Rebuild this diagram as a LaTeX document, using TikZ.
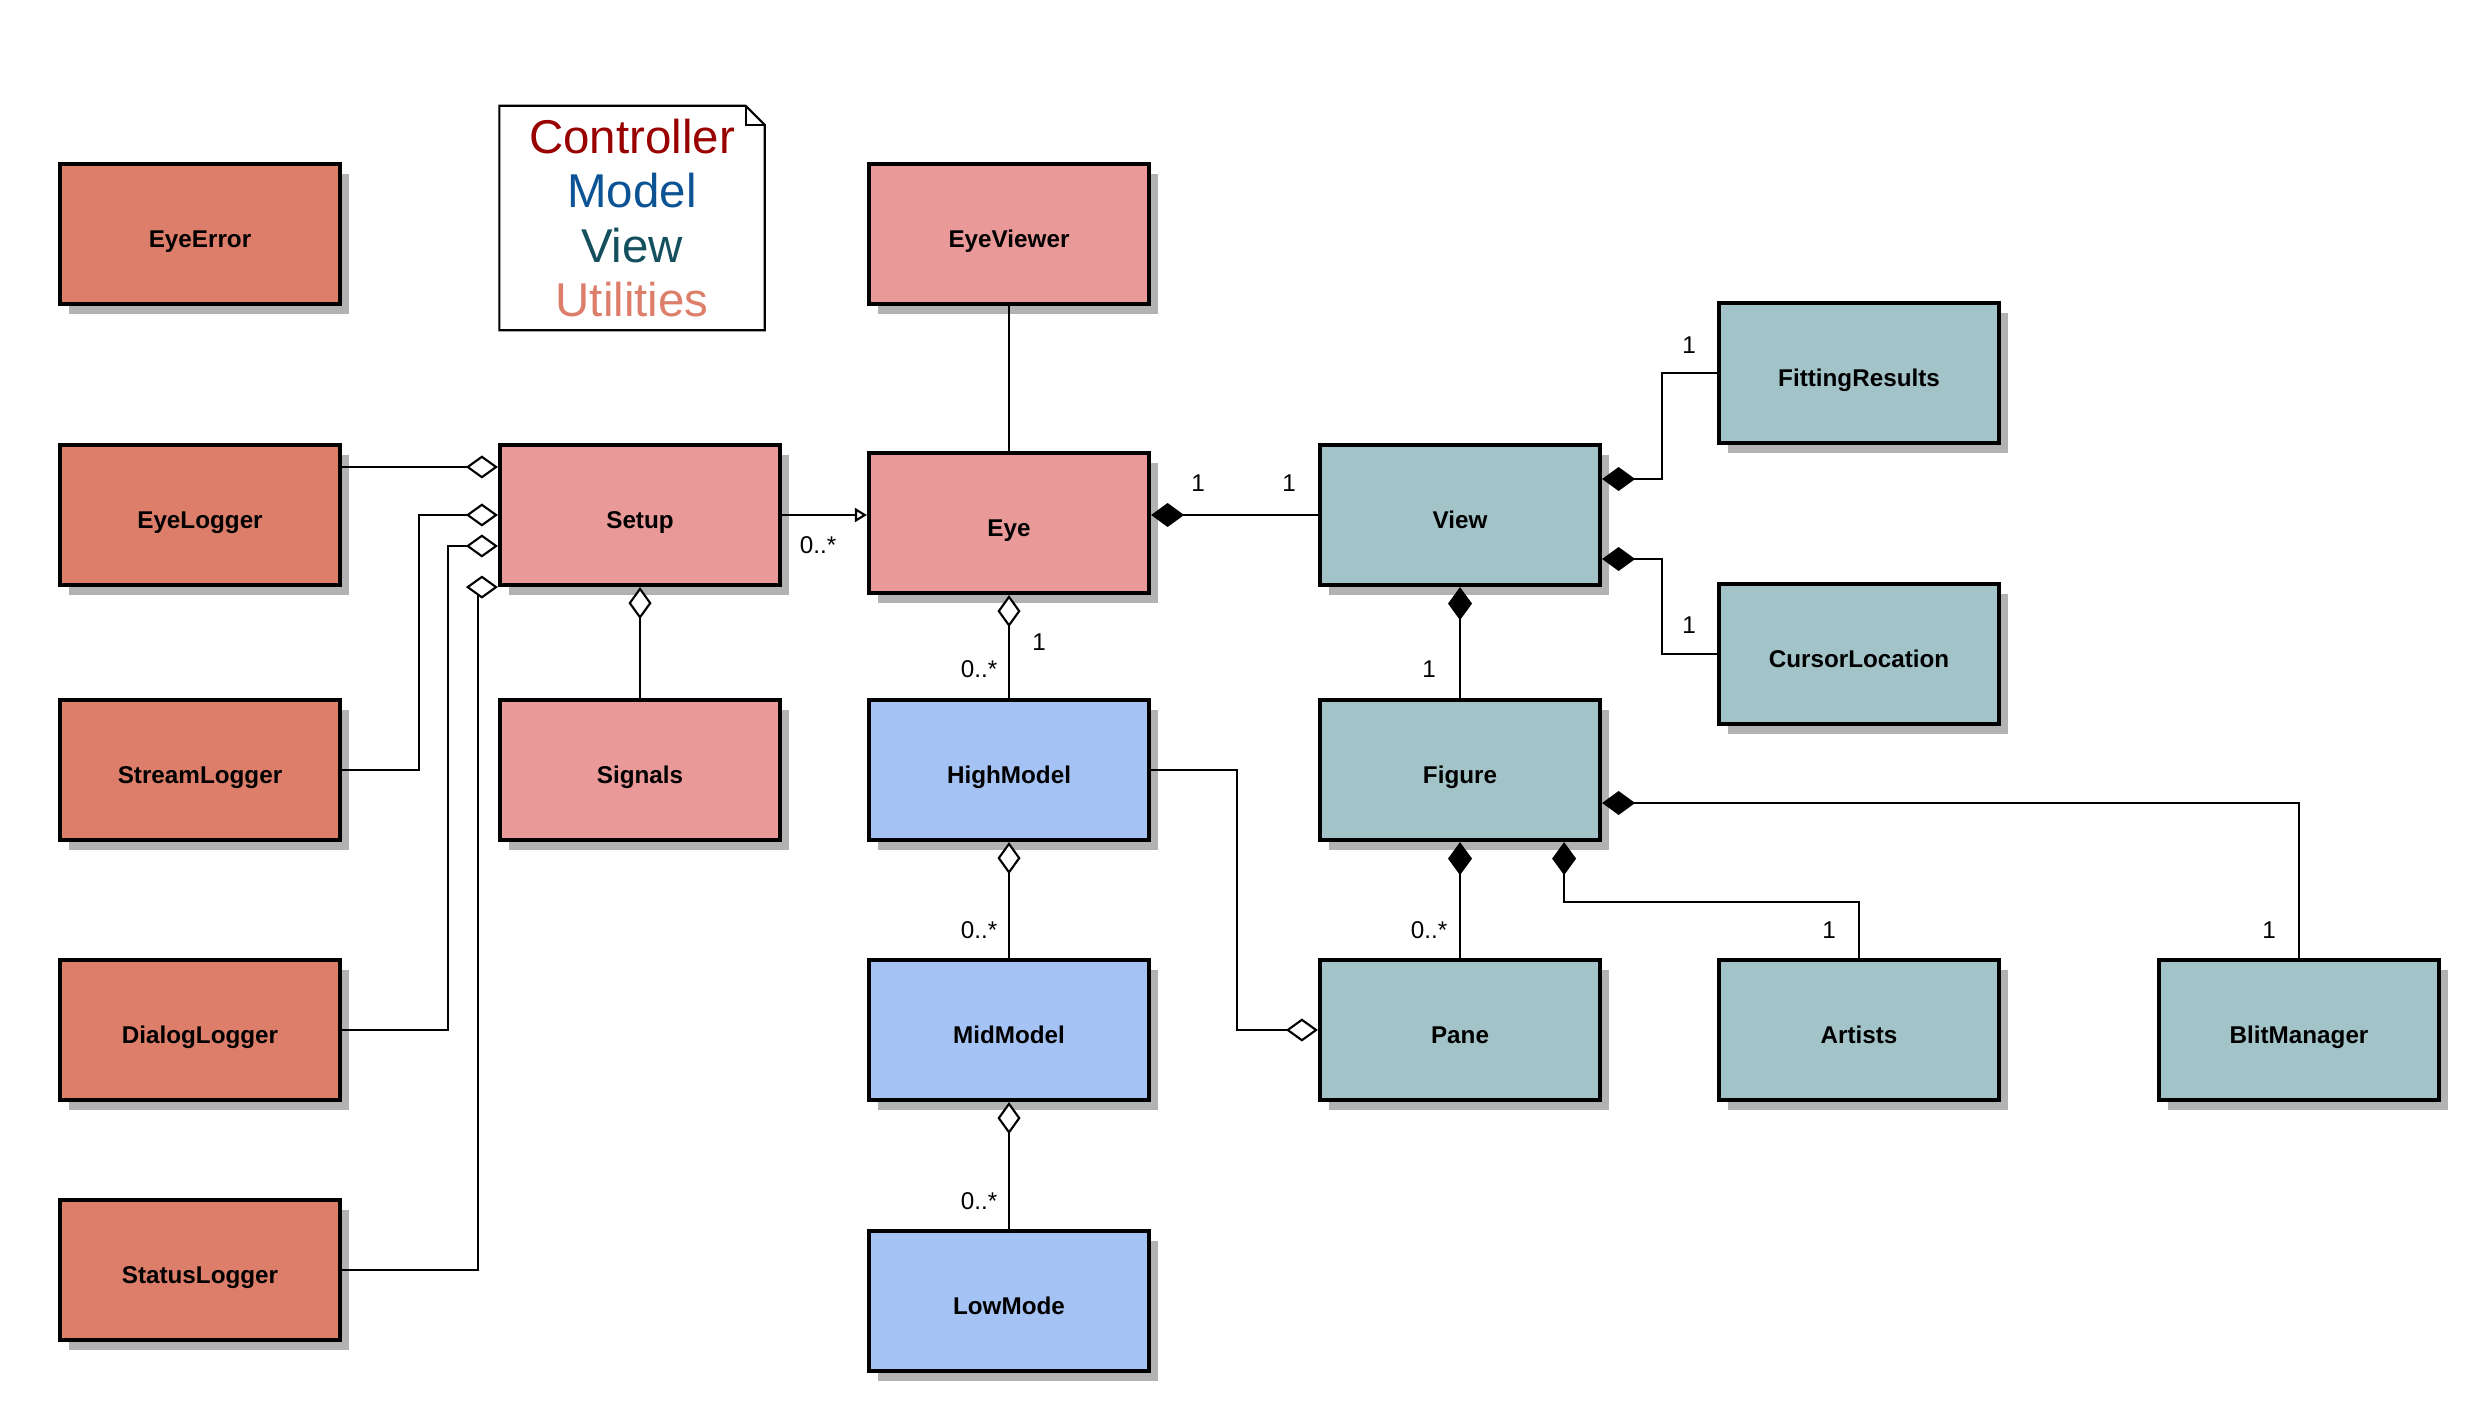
\documentclass[tikz,border=0pt]{standalone}
\usepackage{fontspec}
\setmainfont{Liberation Sans}
\usetikzlibrary{arrows.meta, shadows}

\definecolor{utilfill}{HTML}{DD7E6B}
\definecolor{ctrlfill}{HTML}{EA9999}
\definecolor{modelfill}{HTML}{A4C2F4}
\definecolor{viewfill}{HTML}{A2C4C9}
\definecolor{ctrltext}{HTML}{990000}
\definecolor{modeltext}{HTML}{0B5394}
\definecolor{viewtext}{HTML}{134F5C}
\definecolor{utiltext}{HTML}{DD7E6B}

\begin{document}
\begin{tikzpicture} [
  cls/.style={
    draw, rectangle, line width=1.2pt, minimum width=2.8cm, minimum height=1.4cm,
    text height=1.45ex, text depth=0pt,
    font=\fontsize{6.9}{8}\selectfont\bfseries,
    drop shadow={shadow xshift=0.09cm, shadow yshift=-0.1cm, fill=black!30, opacity=1}
  },
  util/.style={cls, fill=utilfill},
  ctrl/.style={cls, fill=ctrlfill},
  model/.style={cls, fill=modelfill},
  view/.style={cls, fill=viewfill},
  mult/.style={font=\fontsize{6.9}{8}\selectfont, inner sep=0pt},
  agg/.tip={Diamond[fill=white, length=3.2mm, width=2.3mm]},
  comp/.tip={Diamond[length=3.3mm, width=2.4mm]},
  gen/.tip={Triangle[open, length=1.2mm, width=1.4mm]}
  ]
  \useasboundingbox (0,0) rectangle (24.92,14.11);

  % utilities
  \node(err)[util] at (2.00,11.77) {EyeError};
  \node(elog)[util] at (2.00,8.96) {EyeLogger};
  \node(slog)[util] at (2.00,6.41) {StreamLogger};
  \node(dlog)[util] at (2.00,3.81) {DialogLogger};
  \node(stlog)[util] at (2.00,1.41) {StatusLogger};
  % controller
  \node(setup)[ctrl] at (6.40,8.96) {Setup};
  \node(sig)[ctrl] at (6.40,6.41) {Signals};
  \node(viewer)[ctrl] at (10.09,11.77) {EyeViewer};
  \node(eye)[ctrl] at (10.09,8.88) {Eye};
  % model
  \node(high)[model] at (10.09,6.41) {HighModel};
  \node(mid)[model] at (10.09,3.81) {MidModel};
  \node(low)[model] at (10.09,1.10) {LowMode};
  % view
  \node(view)[view] at (14.60,8.96) {View};
  \node(fig)[view] at (14.60,6.41) {Figure};
  \node(pane)[view] at (14.60,3.81) {Pane};
  \node(fit)[view] at (18.59,10.38) {FittingResults};
  \node(cur)[view] at (18.59,7.57) {CursorLocation};
  \node(art)[view] at (18.59,3.81) {Artists};
  \node(blit)[view] at (22.99,3.81) {BlitManager};

  % legend
  \node(legend)[minimum width=2.64cm, minimum height=2.23cm, align=center,
    font=\fontsize{13.5}{15.4}\selectfont] at (6.32,11.93)
    {\textcolor{ctrltext}{Controller}\\ \textcolor{modeltext}{Model}\\
     \textcolor{viewtext}{View}\\ \textcolor{utiltext}{Utilities}};
  \draw[line width=0.6pt] (legend.south west) -- (legend.north west)
    -- ([xshift=-1.9mm]legend.north east) -- ([yshift=-1.9mm]legend.north east)
    -- (legend.south east) -- cycle;
  \draw[line width=0.6pt] ([xshift=-1.9mm]legend.north east) |- ([yshift=-1.9mm]legend.north east);

  % multiplicities
  \node(m1)[mult] at (8.18,8.66) {0..*};
  \node(m2)[mult] at (11.98,9.28) {1};
  \node(m3)[mult] at (12.89,9.28) {1};
  \node(m4)[mult] at (10.39,7.69) {1};
  \node(m5)[mult] at (9.79,7.42) {0..*};
  \node(m6)[mult] at (9.79,4.81) {0..*};
  \node(m7)[mult] at (9.79,2.10) {0..*};
  \node(m8)[mult] at (14.29,7.42) {1};
  \node(m9)[mult] at (16.89,10.66) {1};
  \node(m10)[mult] at (16.89,7.86) {1};
  \node(m11)[mult] at (14.29,4.81) {0..*};
  \node(m12)[mult] at (18.29,4.81) {1};
  \node(m13)[mult] at (22.69,4.81) {1};

  \begin{scope}[line width=0.6pt]
    \draw[agg-] ([yshift=4.8mm]setup.west) -- ([yshift=4.8mm]setup.west -| elog.east);
    \draw[-agg] (slog.east) -- ++(0.77,0) |- (setup.west);
    \draw[-agg] (dlog.east) -- ++(1.06,0) |- ([yshift=-3.1mm]setup.west);
    \draw[-agg] (stlog.east) -- ++(1.36,0) |- (setup.south west);
    \draw[agg-] (setup) -- (sig);
    \draw[-gen] (setup.east) -- (setup.east -| eye.west);
    \draw (viewer) -- (eye);
    \draw[comp-] (view.west -| eye.east) -- (view.west);
    \draw[agg-] (eye) -- (high);
    \draw[agg-] (high) -- (mid);
    \draw[agg-] (mid) -- (low);
    \draw[-agg] (high.east) -- ++(0.86,0) |- (pane.west);
    \draw[comp-] (view) -- (fig);
    \draw[comp-] ([yshift=3.6mm]view.east) -- ++(0.6,0) |- (fit.west);
    \draw[comp-] ([yshift=-4.4mm]view.east) -- ++(0.6,0) |- (cur.west);
    \draw[comp-] (fig) -- (pane);
    \draw[comp-] ([xshift=-3.8mm]fig.south east) -- ++(0,-0.6) -| (art.north);
    \draw[comp-] ([yshift=-3.3mm]fig.east) -| (blit.north);
  \end{scope}
\end{tikzpicture}
\end{document}
